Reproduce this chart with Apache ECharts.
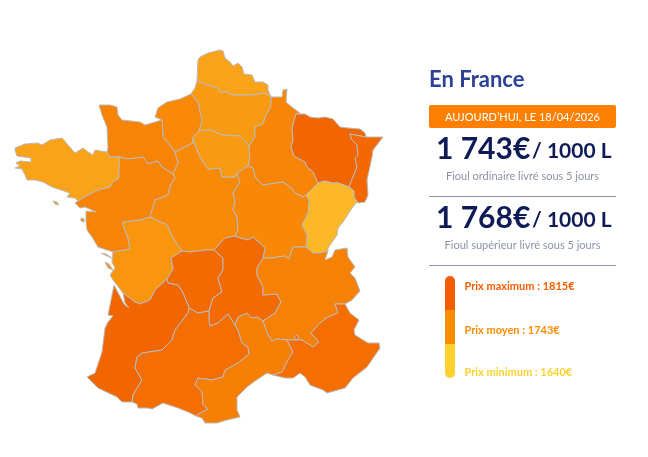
<!DOCTYPE html>
<html><head><meta charset="utf-8">
<style>html,body{margin:0;padding:0;background:#fff}#c{width:648px;height:457px}</style>
<script src="https://cdn.jsdelivr.net/npm/echarts@6/dist/echarts.min.js"></script>
</head><body><div id="c"></div>
<script>
// ---- data ----
const regionNames = ['Nord-Pas-de-Calais','Picardie','Haute-Normandie','Basse-Normandie','Bretagne','Pays de la Loire','Centre','Île-de-France','Champagne-Ardenne','Lorraine','Alsace','Franche-Comté','Bourgogne','Poitou-Charentes','Limousin','Auvergne','Rhône-Alpes','Aquitaine','Midi-Pyrénées','Languedoc-Roussillon','Provence-Alpes-Côte d\'Azur'];
const regionPrices = [1680,1697,1730,1742,1680,1742,1727,1697,1740,1815,1808,1640,1732,1706,1805,1805,1750,1815,1795,1755,1795];
const priceScale = [1640,1815];
const scaleColours = ['#FDB827','#F98A06','#F26600'];
const legendLabels = ['Prix maximum : 1815€','Prix moyen : 1743€','Prix minimum : 1640€'];
const legendColours = ['#F45D00','#FB8C00','#FFD02E'];
const panelTitle = 'En France';
const dateLabel = 'AUJOURD’HUI, LE 18/04/2026';
const fuelPrices = ['1 743€','1 768€'];
const fuelUnit = '/ 1000 L';
const fuelNames = ['Fioul ordinaire livré sous 5 jours','Fioul supérieur livré sous 5 jours'];

// ---- region outlines (shared borders) ----
const nordCoast=[[197,81],[198,60],[200,57],[208,53],[220,50],[223,51],[225,58],[230,62],[233,66],[238,63],[242,67],[244,74],[252,75],[255,82],[263,82],[268,85],[268,90],[271,97]];
const nordPic=[[197,81],[207,85],[218,88],[220,92],[227,92],[232,95],[240,95],[252,95],[265,93],[271,97]];
const picCoast=[[197,81],[195,88],[191,94]];
const picHN=[[191,94],[198,102],[200,112],[202,120],[199,131]];
const picIDF=[[199,131],[210,130],[223,135],[240,136],[244,140],[249,146]];
const picChamp=[[271,97],[271,107],[266,115],[263,124],[255,127],[255,137],[249,146]];
const hnCoast=[[191,94],[180,99],[167,102],[158,108],[155,117],[162,120]];
const hnBN=[[162,120],[163,137],[168,143],[175,152]];
const hnCentre=[[175,152],[183,148],[193,143]];
const hnIDF=[[193,143],[193,137],[199,131]];
const bnCoast=[[162,120],[145,125],[140,122],[122,120],[118,115],[117,107],[110,105],[99,105],[102,115],[107,127],[108,148],[107,152]];
const bnBret=[[107,152],[110,157],[120,157]];
const bnPdl=[[120,157],[127,159],[143,157],[148,164],[158,161],[162,167],[173,174]];
const bnCentre=[[173,174],[178,163],[175,152]];
const bretCoast=[[107,152],[95,150],[93,155],[88,152],[83,148],[75,153],[68,145],[62,138],[50,140],[42,145],[38,143],[25,144],[15,148],[15,150],[17,156],[31,158],[31,162],[20,161],[16,163],[20,166],[15,168],[22,169],[25,175],[27,180],[35,180],[43,182],[52,187],[58,189],[70,193],[67,197],[75,198],[78,201]];
const bretPdl=[[78,201],[88,195],[98,190],[110,187],[113,182],[119,178],[119,168],[120,157]];
const pdlCoast=[[78,201],[75,203],[80,208],[85,207],[96,212],[86,211],[86,222],[87,230],[92,237],[98,247],[113,252]];
const pdlPoitou=[[113,252],[130,249],[128,238],[123,225],[123,222],[140,220],[150,217]];
const pdlCentre=[[150,217],[155,200],[168,195],[170,186],[175,178],[173,174]];
const centreIDF=[[193,143],[193,140],[200,157],[208,169],[220,168],[222,177],[235,177],[237,173]];
const centreBourg=[[237,173],[240,182],[233,193],[235,202],[233,210],[237,217],[238,230],[235,236]];
const centreAuv=[[235,236],[225,238],[214,250]];
const centreLim=[[214,250],[205,250],[190,252],[182,251]];
const centrePoitou=[[182,251],[173,238],[167,225],[150,217]];
const idfChamp=[[249,146],[250,157],[248,166]];
const idfBourg=[[248,166],[237,173]];
const champCoast=[[271,97],[282,97],[283,90],[287,89],[286,102],[293,108],[300,113],[296,114]];
const champLor=[[296,114],[292,128],[293,140],[291,147],[294,156],[305,162],[307,167],[313,172],[318,183]];
const champFC=[[318,183],[313,188],[306,195]];
const champBourg=[[306,195],[303,197],[295,193],[290,187],[283,182],[263,185],[255,177],[253,168],[248,166]];
const lorCoast=[[296,114],[305,114],[310,117],[318,118],[325,117],[333,119],[340,127],[348,128],[360,129],[365,133],[366,137]];
const lorAls=[[366,137],[350,134],[352,140],[357,145],[358,155],[355,158],[357,167],[349,187]];
const lorFC=[[349,187],[338,183],[332,183],[325,181],[318,183]];
const alsCoast=[[366,137],[383,137],[373,150],[372,157],[367,180],[368,195],[365,202],[358,203],[354,197]];
const alsFC=[[354,197],[354,191],[349,187]];
const fcCoast=[[354,197],[357,202],[352,208],[343,222],[338,228],[337,235],[328,248],[328,251]];
const fcRA=[[328,251],[320,253],[313,253],[306,247]];
const fcBourg=[[306,247],[307,235],[302,225],[308,213],[309,200],[306,195]];
const bourgRA=[[306,247],[293,247],[289,259],[285,256],[277,257],[273,258],[263,258]];
const bourgAuv=[[263,258],[265,248],[253,237],[248,240],[240,238],[235,236]];
const auvRA=[[263,258],[257,268],[257,275],[263,287],[263,295],[277,294],[281,302],[275,313],[263,321]];
const auvLang=[[263,321],[257,317],[252,318],[247,313],[238,317],[235,325]];
const auvMidi=[[235,325],[228,314],[218,323],[210,326],[209,320],[209,311]];
const auvLim=[[209,311],[213,298],[222,292],[218,278],[223,270],[223,258],[214,250]];
const limPoitou=[[182,251],[171,258],[173,269],[167,279]];
const limAq=[[167,279],[168,283],[178,285],[183,293],[188,305],[189,308]];
const limMidi=[[189,308],[198,313],[209,311]];
const poitouAq=[[167,279],[155,290],[150,300],[140,304],[135,302],[123,293]];
const poitouCoast=[[123,293],[113,280],[110,275],[115,268],[112,262],[113,252]];
const aqCoast=[[123,293],[125,303],[129,308],[124,304],[114,285],[108,315],[113,316],[108,322],[105,328],[102,352],[95,373],[87,377],[90,380],[98,388],[117,397],[122,402],[132,402]];
const aqMidi=[[132,402],[133,395],[142,380],[135,368],[137,357],[142,353],[162,350],[172,340],[175,330],[188,313],[189,308]];
const midiCoast=[[132,402],[137,404],[138,408],[148,408],[152,409],[163,403],[178,408],[188,412],[196,416]];
const midiLang=[[196,416],[200,413],[208,409],[203,405],[202,392],[195,385],[198,378],[212,380],[223,377],[225,370],[238,363],[249,354],[248,347],[242,343],[238,330],[235,325]];
const langCoast=[[196,416],[202,418],[205,423],[217,423],[227,420],[240,417],[237,410],[237,397],[247,387],[255,381],[267,373],[273,375]];
const langPaca=[[273,375],[282,372],[288,360],[293,352],[287,340]];
const langRA=[[287,340],[277,339],[272,341],[267,333],[263,321]];
const pacaCoast=[[273,375],[285,378],[293,378],[300,373],[305,377],[310,385],[323,390],[327,393],[345,388],[353,378],[367,367],[380,348],[379,343],[368,343],[355,335],[354,330],[359,320],[350,313],[345,304]];
const pacaRA=[[345,304],[335,304],[338,313],[328,317],[320,323],[311,333],[319,342],[313,347],[302,340],[297,340],[287,340]];
const raFrontier=[[345,304],[352,300],[360,291],[355,278],[350,273],[355,267],[348,257],[347,248],[335,250],[332,257],[325,260],[328,251]];
const ileRe=[[101,253],[106,254],[112,258],[107,256]];
const ileOleron=[[105,262],[109,264],[113,270],[108,268]];
const belleIle=[[53,201],[57,202],[59,205],[55,204]];
const noirmoutier=[[81,218],[84,219],[84,222],[81,221]];
const valreas=[[294,337],[297,335],[299,337],[297,340]];

// ---- assemble map ----
const r = a => a.slice().reverse();
const ring = (...parts) => { const out=[]; parts.forEach(p=>out.push(...p)); out.push(parts[0][0]); return out; };
const closed = a => a.concat([a[0]]);
const regionRings = {
 'Nord-Pas-de-Calais':[ring(nordCoast,r(nordPic))],
 'Picardie':[ring(nordPic,picChamp,r(picIDF),r(picHN),r(picCoast))],
 'Haute-Normandie':[ring(hnCoast,hnBN,hnCentre,hnIDF,r(picHN))],
 'Basse-Normandie':[ring(bnCoast,bnBret,bnPdl,bnCentre,r(hnBN))],
 'Bretagne':[ring(bretCoast,bretPdl,r(bnBret)),closed(belleIle)],
 'Pays de la Loire':[ring(pdlCoast,pdlPoitou,pdlCentre,r(bnPdl),r(bretPdl)),closed(noirmoutier)],
 'Centre':[ring(centreIDF,centreBourg,centreAuv,centreLim,centrePoitou,pdlCentre,bnCentre,hnCentre)],
 'Île-de-France':[ring(picIDF,idfChamp,idfBourg,r(centreIDF),hnIDF)],
 'Champagne-Ardenne':[ring(champCoast,champLor,champFC,champBourg,r(idfChamp),r(picChamp))],
 'Lorraine':[ring(lorCoast,lorAls,lorFC,r(champLor))],
 'Alsace':[ring(alsCoast,alsFC,r(lorAls))],
 'Franche-Comté':[ring(fcCoast,fcRA,fcBourg,r(champFC),r(lorFC),r(alsFC))],
 'Bourgogne':[ring(r(idfBourg),r(champBourg),r(fcBourg),bourgRA,bourgAuv,r(centreBourg))],
 'Poitou-Charentes':[ring(pdlPoitou,r(centrePoitou),limPoitou,poitouAq,poitouCoast),closed(ileRe),closed(ileOleron)],
 'Limousin':[ring(centreLim,limPoitou,limAq,limMidi,auvLim)],
 'Auvergne':[ring(r(centreAuv),r(bourgAuv),auvRA,auvLang,auvMidi,auvLim)],
 'Rhône-Alpes':[ring(r(bourgRA),r(fcRA),r(raFrontier),pacaRA,langRA,r(auvRA))],
 'Aquitaine':[ring(aqCoast,aqMidi,r(limAq),poitouAq)],
 'Midi-Pyrénées':[ring(midiCoast,midiLang,auvMidi,r(limMidi),r(aqMidi))],
 'Languedoc-Roussillon':[ring(langCoast,langPaca,langRA,auvLang,r(midiLang))],
 'Provence-Alpes-Côte d\'Azur':[ring(pacaCoast,pacaRA,r(langPaca)),closed(valreas)]
};
const geo = {type:'FeatureCollection',features:regionNames.map(n=>({type:'Feature',properties:{name:n},
  geometry:{type:'MultiPolygon',coordinates:regionRings[n].map(x=>[x])}}))};
echarts.registerMap('france',geo);
let xs=[],ys=[];
Object.values(regionRings).forEach(l=>l.forEach(a=>a.forEach(p=>{xs.push(p[0]);ys.push(p[1]);})));
const x0=Math.min(...xs),x1=Math.max(...xs),y0=Math.min(...ys),y1=Math.max(...ys);

// ---- side panel ----
const FONT='Lato';
const txt=(text,x,y,o)=>({type:'text',x,y,silent:true,style:Object.assign({text,fontFamily:FONT,textVerticalAlign:'middle'},o)});
const NAVY='#0E1B56', GREY='#8C92A8', LINE='#9094A6';
const g=[];
g.push(txt(panelTitle,429,80,{fontSize:22,fontWeight:'bold',fill:'#2B4096'}));
g.push({type:'rect',silent:true,shape:{x:429,y:105,width:187,height:23,r:2},style:{fill:'#FF8000'}});
g.push(txt(dateLabel,522.5,117,{fontSize:11,fill:'#FFF',textAlign:'center'}));
[149,218].forEach((y,i)=>{
  g.push(txt(fuelPrices[i],436,y,{fontSize:30,fontWeight:'bold',fill:NAVY}));
  g.push(txt(fuelUnit,532,y+2.5,{fontSize:21,fontWeight:'bold',fill:NAVY}));
  g.push(txt(fuelNames[i],522.5,y+27,{fontSize:11,fill:GREY,textAlign:'center'}));
});
[196,265].forEach(y=>g.push({type:'line',silent:true,shape:{x1:429,y1:y+.5,x2:616,y2:y+.5},style:{stroke:LINE,lineWidth:1}}));
g.push({type:'rect',silent:true,shape:{x:445,y:276,width:10,height:34,r:[5,5,0,0]},style:{fill:legendColours[0]}});
g.push({type:'rect',silent:true,shape:{x:445,y:310,width:10,height:34},style:{fill:legendColours[1]}});
g.push({type:'rect',silent:true,shape:{x:445,y:344,width:10,height:34,r:[0,0,5,5]},style:{fill:legendColours[2]}});
[286,330,372].forEach((y,i)=>g.push(txt(legendLabels[i],464.5,y,{fontSize:11,fontWeight:'bold',fill:legendColours[i]})));

const chart=echarts.init(document.getElementById('c'));
chart.setOption({
  animation:false,
  backgroundColor:'#fff',
  visualMap:{show:false,min:priceScale[0],max:priceScale[1],inRange:{color:scaleColours},seriesIndex:0},
  series:[{type:'map',map:'france',silent:true,
    projection:{project:p=>p,unproject:p=>p},
    left:x0,top:y0,width:x1-x0,height:y1-y0,
    label:{show:false},
    itemStyle:{borderColor:'#BABABA',borderWidth:1},
    emphasis:{disabled:true},select:{disabled:true},
    data:regionNames.map((n,i)=>({name:n,value:regionPrices[i]}))}],
  graphic:{elements:g}
});
</script></body></html>
